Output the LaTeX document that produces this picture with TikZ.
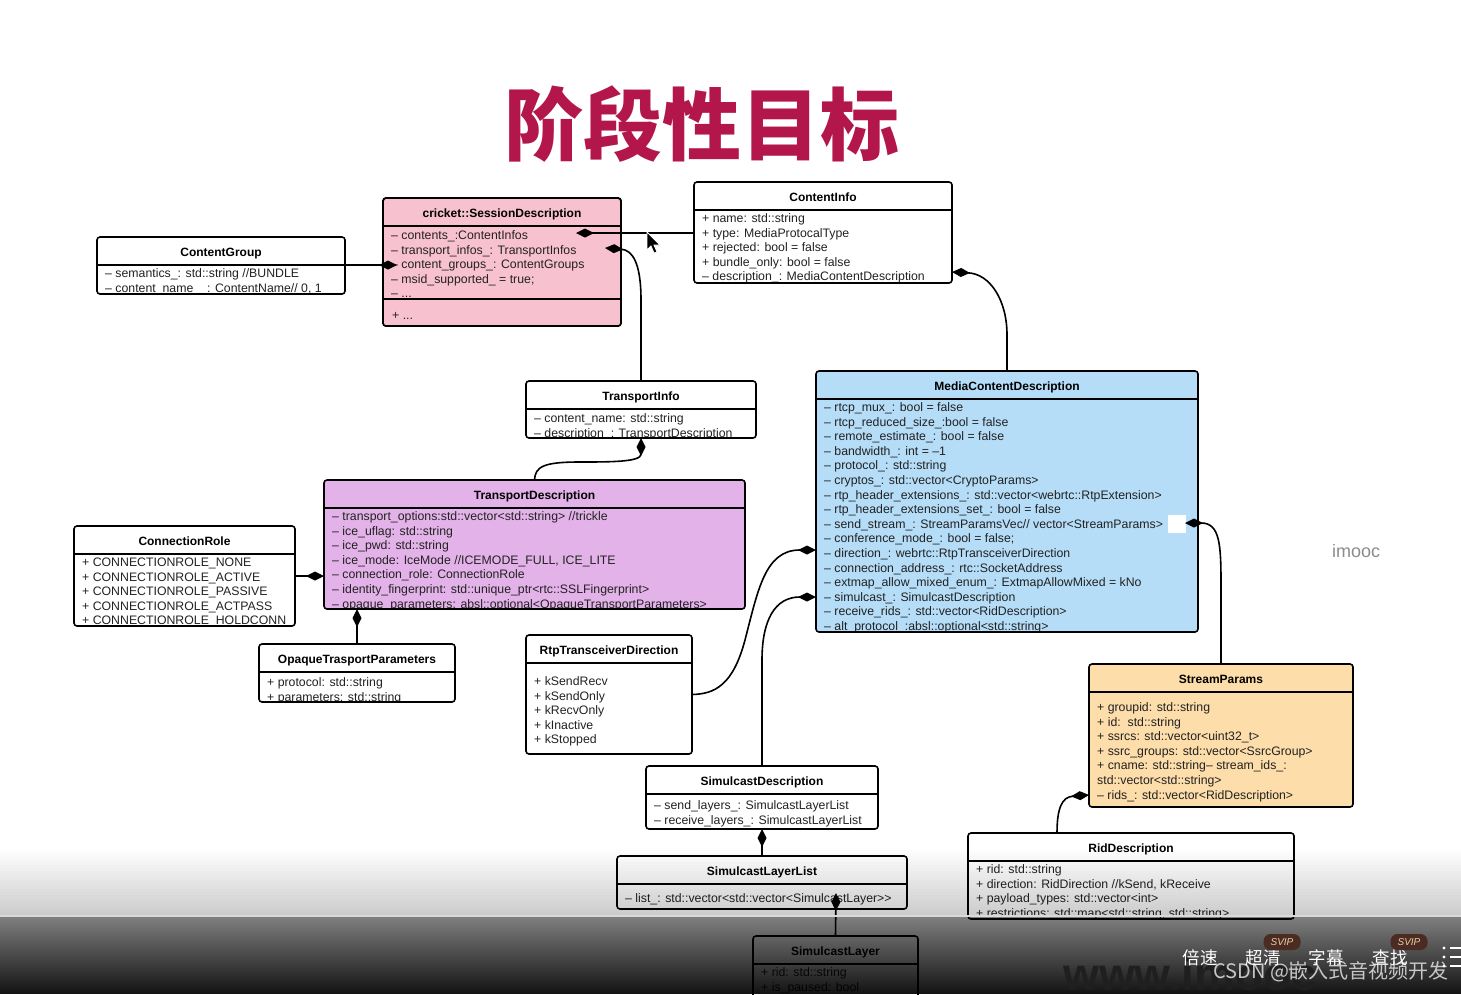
\documentclass[tikz,border=0pt]{standalone}
\usepackage{fontspec}
\setmainfont{Liberation Sans}
\newfontfamily\cjk{Noto Sans CJK SC}
\usetikzlibrary{arrows.meta,calc}
\definecolor{pinkf}{HTML}{F8C1D0}
\definecolor{purpf}{HTML}{E3B2E8}
\definecolor{bluef}{HTML}{B5DDF8}
\definecolor{orngf}{HTML}{FDDDAA}
\definecolor{titlec}{HTML}{B3164B}
\definecolor{txt}{HTML}{222222}
\definecolor{badge}{HTML}{4A2C22}
\definecolor{badget}{HTML}{F2C9A6}
\tikzset{
 ubox/.style={draw=none, rectangle, rounded corners=3pt, inner sep=0pt, outer sep=0pt},
 uborder/.style={draw=black, line width=1.6pt, rounded corners=3pt},
 uline/.style={draw=black, line width=1.5pt},
 utitle/.style={font=\fontsize{12}{14}\selectfont\bfseries, text=black, inner sep=0pt, anchor=base},
 uattr/.style={font=\fontsize{12.3}{14.6}\selectfont, text=txt, align=left, inner sep=0pt, anchor=north west},
 comp/.style={draw=black, line width=1.6pt, {Diamond[length=18pt,width=9pt]}-},
 ptext/.style={font=\cjk\fontsize{17.5}{19}\selectfont, text=white, inner sep=0pt},
}
\newcommand\umlbox[9]{%
 \node[ubox, fill=#6, minimum width=#4pt, minimum height=#5pt, anchor=north west] (#1) at (#2,-#3) {};
 \draw[uline] ($(#1.north west)+(0,-28)$) -- ($(#1.north east)+(0,-28)$);
 \node[utitle] (#1-t) at ($(#1.north)+(0,-19.3)$) {#7};
 \begin{scope}
  \clip ($(#1.north west)+(0,-28)$) rectangle (#1.south east);
  \node[uattr] (#1-a) at ($(#1.north west)+(8,{-(#8-5.7)})$) {\rule{0pt}{10pt}#9};
 \end{scope}
 \draw[uborder] (#1.south west) rectangle (#1.north east);
}
\begin{document}
\begin{tikzpicture}[x=1pt,y=1pt]
\useasboundingbox (0,0) rectangle (1461,-994);
\clip (0,0) rectangle (1461,-994);
\fill[white] (0,0) rectangle (1461,-994);

\node[font=\cjk\bfseries\fontsize{79}{80}\selectfont, text=titlec, inner sep=0pt] (title) at (702,-124) {阶段性目标};

\umlbox{sd}{383}{198}{238}{128}{pinkf}{cricket::SessionDescription}{37}{– contents\_:ContentInfos\\– transport\_infos\_: TransportInfos\\– content\_groups\_: ContentGroups\\– msid\_supported\_ = true;\\– ...}
\fill[pinkf] (384,-299) rectangle (620,-325);
\draw[uline, line width=2pt] ($(sd.north west)+(0,-101)$) -- ($(sd.north east)+(0,-101)$);
\node[uattr, anchor=base west] (sd-m) at ($(sd.north west)+(9,-121.3)$) {+ ...};
\draw[uborder] (sd.south west) rectangle (sd.north east);

\umlbox{ci}{694}{182}{258}{101}{white}{ContentInfo}{36}{+ name: std::string\\+ type: MediaProtocalType\\+ rejected: bool = false\\+ bundle\_only: bool = false\\– description\_: MediaContentDescription}
\umlbox{cg}{97}{237}{248}{57}{white}{ContentGroup}{36}{– semantics\_: std::string //BUNDLE\\– content\_name\_\_: ContentName// 0, 1}
\umlbox{ti}{526}{381}{230}{57}{white}{TransportInfo}{37}{– content\_name: std::string\\– description\_: TransportDescription}
\umlbox{td}{324}{480}{421}{129}{purpf}{TransportDescription}{36}{– transport\_options:std::vector<std::string> //trickle\\– ice\_uflag: std::string\\– ice\_pwd: std::string\\– ice\_mode: IceMode //ICEMODE\_FULL, ICE\_LITE\\– connection\_role: ConnectionRole\\– identity\_fingerprint: std::unique\_ptr<rtc::SSLFingerprint>\\– opaque\_parameters: absl::optional<OpaqueTransportParameters>}
\umlbox{cr}{74}{526}{221}{100}{white}{ConnectionRole}{36}{+ CONNECTIONROLE\_NONE\\+ CONNECTIONROLE\_ACTIVE\\+ CONNECTIONROLE\_PASSIVE\\+ CONNECTIONROLE\_ACTPASS\\+ CONNECTIONROLE\_HOLDCONN}
\umlbox{otp}{259}{644}{196}{58}{white}{OpaqueTrasportParameters}{38}{+ protocol: std::string\\+ parameters: std::string}
\umlbox{mcd}{816}{371}{382}{261}{bluef}{MediaContentDescription}{36}{– rtcp\_mux\_: bool = false\\– rtcp\_reduced\_size\_:bool = false\\– remote\_estimate\_: bool = false\\– bandwidth\_: int = –1\\– protocol\_: std::string\\– cryptos\_: std::vector<CryptoParams>\\– rtp\_header\_extensions\_: std::vector<webrtc::RtpExtension>\\– rtp\_header\_extensions\_set\_: bool = false\\– send\_stream\_: StreamParamsVec// vector<StreamParams>\\– conference\_mode\_: bool = false;\\– direction\_: webrtc::RtpTransceiverDirection\\– connection\_address\_: rtc::SocketAddress\\– extmap\_allow\_mixed\_enum\_: ExtmapAllowMixed = kNo\\– simulcast\_: SimulcastDescription\\– receive\_rids\_: std::vector<RidDescription>\\– alt\_protocol\_:absl::optional<std::string>}
\fill[white] (1168,-515) rectangle (1186,-533);
\umlbox{rtd}{526}{635}{166}{119}{white}{RtpTransceiverDirection}{46}{+ kSendRecv\\+ kSendOnly\\+ kRecvOnly\\+ kInactive\\+ kStopped}
\umlbox{sdd}{646}{766}{232}{63}{white}{SimulcastDescription}{39}{– send\_layers\_: SimulcastLayerList\\– receive\_layers\_: SimulcastLayerList}
\umlbox{sll}{617}{856}{290}{53}{white}{SimulcastLayerList}{42}{– list\_: std::vector<std::vector<SimulcastLayer>{}>}
\umlbox{sl}{753}{936}{165}{80}{white}{SimulcastLayer}{36}{+ rid: std::string\\+ is\_paused: bool}
\umlbox{sp}{1089}{664}{264}{143}{orngf}{StreamParams}{43}{+ groupid: std::string\\+ id:\ \ std::string\\+ ssrcs: std::vector<uint32\_t>\\+ ssrc\_groups: std::vector<SsrcGroup>\\+ cname: std::string– stream\_ids\_:\\std::vector<std::string>\\– rids\_: std::vector<RidDescription>}
\umlbox{rd}{968}{833}{326}{86}{white}{RidDescription}{36}{+ rid: std::string\\+ direction: RidDirection //kSend, kReceive\\+ payload\_types: std::vector<int>\\+ restrictions: std::map<std::string, std::string>}

% connectors (composition)
\coordinate (dCG) at (397,-265);
\draw[comp] (dCG) -- (cg.east |- dCG);
\coordinate (dCI) at (576,-233);
\draw[comp] (dCI) -- (ci.west |- dCI);
\coordinate (dTI) at (605,-248);
\draw[comp] (dTI) .. controls (632,-250) and (641,-262) .. (641,-300) -- (ti.north);
\coordinate (dMC) at (952,-272);
\draw[comp] (dMC) .. controls (990,-274) and (1007,-300) .. (1007,-335) -- (mcd.north);
\coordinate (dTD) at (641,-438);
\draw[comp] (dTD) .. controls (641,-462) and (610,-462) .. (580,-462) .. controls (545,-462) and (535,-466) .. (td.north);
\coordinate (dCR) at (324,-576);
\draw[comp] (dCR) -- (cr.east |- dCR);
\coordinate (dOP) at (357,-609);
\draw[comp] (dOP) -- (otp.north);
\coordinate (dDir) at (816,-550);
\draw[comp] (dDir) .. controls (765,-550) and (758,-590) .. (745,-640) .. controls (733,-685) and (715,-694) .. (rtd.east);
\coordinate (dSim) at (816,-597);
\draw[comp] (dSim) .. controls (775,-597) and (762,-620) .. (762,-660) -- (sdd.north);
\coordinate (dSS) at (1185,-523);
\draw[comp] (dSS) .. controls (1220,-523) and (1221,-545) .. (1221,-585) -- (sp.north);
\coordinate (dRid) at (1089,-795);
\draw[comp] (dRid) .. controls (1062,-797) and (1057,-808) .. ($(rd.north west)+(89,0)$);
\coordinate (dSLL) at (762,-829);
\draw[comp] (dSLL) -- (sll.north);
\coordinate (dSL) at (836,-893);
\draw[comp] (dSL) -- (sl.north);

% mouse cursor
\filldraw[fill=black, draw=white, line width=0.8pt] (647,-232) -- (647,-250) -- (651,-246) -- (654,-253) -- (657,-252) -- (654,-245) -- (660,-245) -- cycle;

\node[font=\fontsize{18}{20}\selectfont, text=black!45, inner sep=0pt] (imooc) at (1356,-551) {imooc};

% video player overlay
\foreach \i in {0,...,21} {
  \pgfmathsetmacro\op{0.01+0.19*\i/21}
  \fill[black, opacity=\op] (0,{-850-3*\i}) rectangle (1461,{-853-3*\i});
}
\foreach \i in {0,...,38} {
  \pgfmathsetmacro\op{0.5+0.42*\i/38}
  \fill[black, opacity=\op] (0,{-916-2*\i}) rectangle (1461,{-918-2*\i});
}
\draw[black!15, line width=1.5pt] (0,-916) -- (1461,-916);
\node[font=\bfseries\fontsize{46}{48}\selectfont, text=black!88, anchor=base west, inner sep=0pt] (wm) at (1063,-990) {www.imooc};
\node[font=\cjk\fontsize{20}{22}\selectfont, text=black!22, anchor=west, inner sep=0pt] (csdn) at (1213,-972) {CSDN @嵌入式音视频开发};
\node[ptext] (bs) at (1200,-958) {倍速};
\node[ptext] (cq) at (1263,-958) {超清};
\node[ptext] (zm) at (1326,-958) {字幕};
\node[ptext] (cz) at (1390,-958) {查找};
\node[fill=badge, rounded corners=7pt, minimum width=37pt, minimum height=16pt, inner sep=0pt, text=badget, font=\fontsize{10}{11}\selectfont\itshape] (sv1) at (1282,-942) {SVIP};
\node[fill=badge, rounded corners=7pt, minimum width=37pt, minimum height=16pt, inner sep=0pt, text=badget, font=\fontsize{10}{11}\selectfont\itshape] (sv2) at (1409,-942) {SVIP};
\foreach \yy in {948,957,966} {
  \fill[white] (1444,-\yy) circle (1.6pt);
  \draw[white, line width=2.5pt] (1450,-\yy) -- (1461,-\yy);
}
\end{tikzpicture}
\end{document}
